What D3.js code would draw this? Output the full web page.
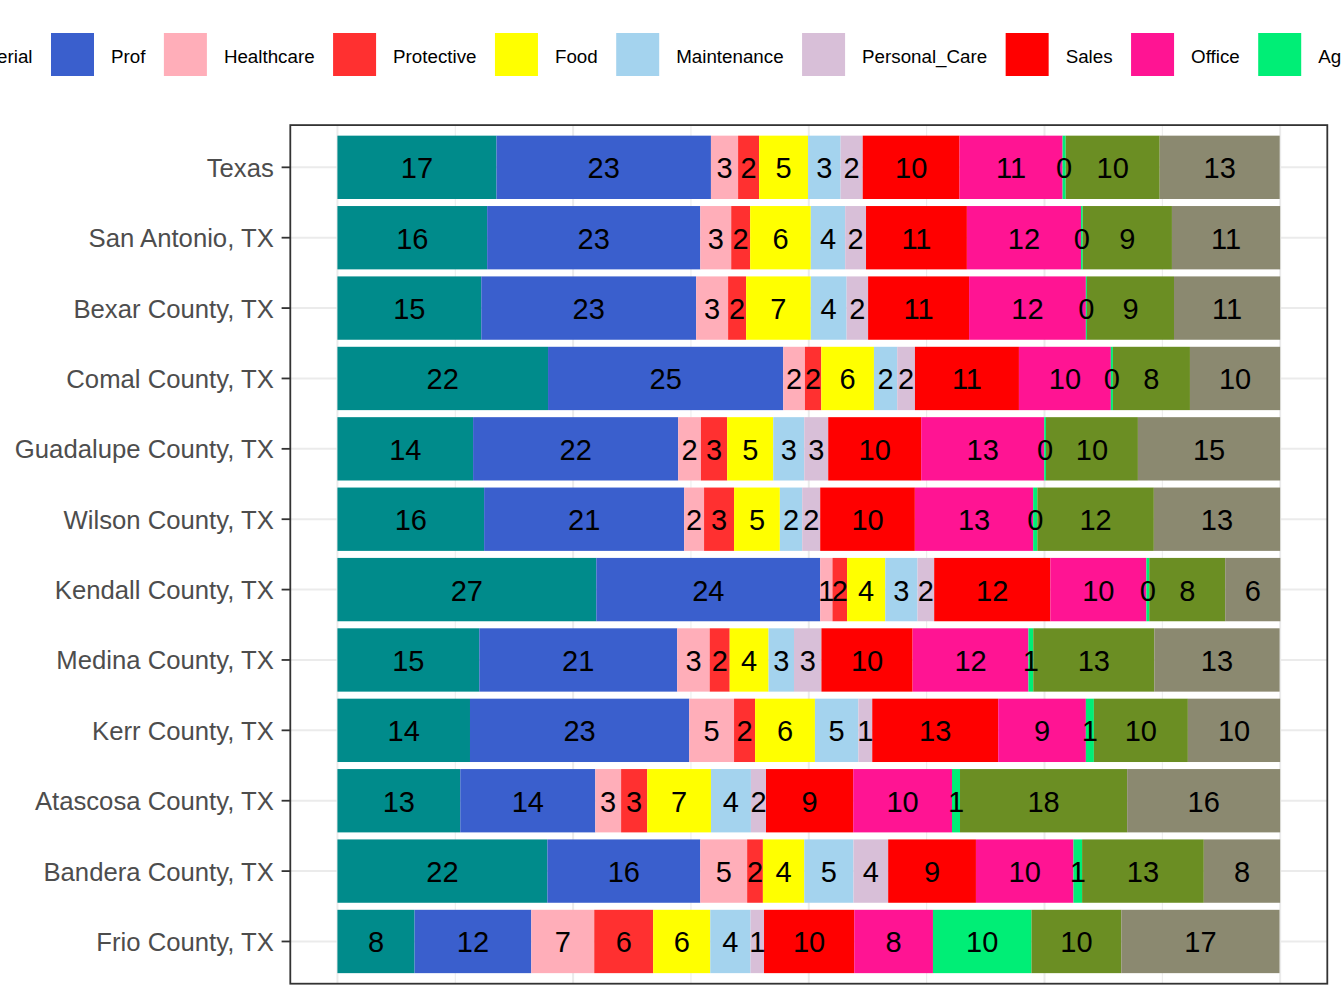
<!DOCTYPE html>
<html>
<head>
<meta charset="utf-8">
<script src="https://cdn.jsdelivr.net/npm/d3@7"></script>
<style>
  html, body { margin: 0; padding: 0; background: #ffffff; }
  svg { display: block; font-family: "Liberation Sans", Arial, sans-serif; }
</style>
</head>
<body>
<svg id="chart" width="1344" height="1008"></svg>
<script>
// ---------------- DATA ----------------
const regions = ["Texas", "San Antonio, TX", "Bexar County, TX", "Comal County, TX",
  "Guadalupe County, TX", "Wilson County, TX", "Kendall County, TX", "Medina County, TX",
  "Kerr County, TX", "Atascosa County, TX", "Bandera County, TX", "Frio County, TX"];

const occupations = ["Managerial", "Prof", "Healthcare", "Protective", "Food", "Maintenance",
  "Personal_Care", "Sales", "Office", "Ag", "Construction", "Production"];

const occupationColors = ["#008B8B", "#3A5FCD", "#FFAEB9", "#FF3030", "#FFFF00", "#A4D3EE",
  "#D8BFD8", "#FF0000", "#FF1493", "#00EE76", "#6B8E23", "#8B8970"];

// percent of workers, one value per region (same order as regions)
const managerial   = [16.87, 15.88, 15.26, 22.34, 14.39, 15.56, 27.46, 15.05, 14.06, 13.03, 22.27, 8.18];
const prof         = [22.75, 22.61, 22.79, 24.95, 21.76, 21.22, 23.75, 20.99, 23.26, 14.32, 16.22, 12.38];
const healthcare   = [2.88, 3.28, 3.39, 2.30, 2.41, 2.11, 1.30, 3.45, 4.75, 2.74, 4.97, 6.68];
const protective   = [2.23, 2.01, 1.91, 1.73, 2.78, 3.18, 1.55, 2.12, 2.23, 2.77, 1.67, 6.25];
const food         = [5.19, 6.43, 6.86, 5.59, 4.89, 4.86, 4.05, 4.12, 6.35, 6.76, 4.39, 6.06];
const maintenance  = [3.45, 3.65, 3.80, 2.47, 3.29, 2.37, 3.42, 2.70, 4.61, 4.24, 5.22, 4.27];
const personalCare = [2.35, 2.21, 2.28, 1.88, 2.54, 1.91, 1.77, 2.91, 1.47, 1.60, 3.68, 1.43];
const sales        = [10.27, 10.70, 10.71, 11.03, 9.86, 10.04, 12.32, 9.67, 13.36, 9.25, 9.31, 9.57];
const office       = [10.93, 12.11, 12.39, 9.75, 13.06, 12.55, 10.19, 12.29, 9.30, 10.48, 10.34, 8.35];
const ag           = [0.33, 0.18, 0.11, 0.22, 0.18, 0.44, 0.30, 0.51, 0.85, 0.85, 0.92, 10.45];
const construction = [9.97, 9.46, 9.24, 8.17, 9.75, 12.36, 8.06, 12.84, 9.97, 17.73, 12.91, 9.53];
const production   = [12.73, 11.48, 11.26, 9.57, 15.09, 13.40, 5.85, 13.29, 9.79, 16.23, 8.10, 16.78];

const seriesValues = [managerial, prof, healthcare, protective, food, maintenance,
  personalCare, sales, office, ag, construction, production];

const xMajorTicks = [0, 25, 50, 75, 100];
const xMinorTicks = [12.5, 37.5, 62.5, 87.5];

// ---------------- LAYOUT ----------------
const svg = d3.select("#chart");
const panel = { left: 290.3, right: 1327.3, top: 125.1, bottom: 983.7 };

const table = regions.map((r, i) => {
  const row = { region: r };
  occupations.forEach((o, j) => { row[o] = seriesValues[j][i]; });
  return row;
});

const x = d3.scaleLinear().domain([-5, 105]).range([panel.left, panel.right]);
const y = d3.scalePoint().domain(regions).range([panel.top, panel.bottom]).padding(0.6);
const step = y.step();
const barH = step * 0.9;
const color = d3.scaleOrdinal().domain(occupations).range(occupationColors);

// panel background
svg.append("rect").attr("x", panel.left).attr("y", panel.top)
  .attr("width", panel.right - panel.left).attr("height", panel.bottom - panel.top)
  .attr("fill", "#ffffff");

// grid
const grid = svg.append("g");
grid.selectAll("line.minor").data(xMinorTicks).join("line")
  .attr("x1", d => x(d)).attr("x2", d => x(d))
  .attr("y1", panel.top).attr("y2", panel.bottom)
  .attr("stroke", "#EBEBEB").attr("stroke-width", 1);
grid.selectAll("line.major").data(xMajorTicks).join("line")
  .attr("x1", d => x(d)).attr("x2", d => x(d))
  .attr("y1", panel.top).attr("y2", panel.bottom)
  .attr("stroke", "#EBEBEB").attr("stroke-width", 2);
grid.selectAll("line.hmajor").data(regions).join("line")
  .attr("x1", panel.left).attr("x2", panel.right)
  .attr("y1", d => y(d)).attr("y2", d => y(d))
  .attr("stroke", "#EBEBEB").attr("stroke-width", 2);

// bars
const stacked = d3.stack().keys(occupations)(table);
const layers = svg.append("g").selectAll("g").data(stacked).join("g")
  .attr("fill", d => color(d.key));
layers.selectAll("rect").data(d => d).join("rect")
  .attr("x", d => x(d[0]))
  .attr("width", d => x(d[1]) - x(d[0]))
  .attr("y", d => y(d.data.region) - barH / 2)
  .attr("height", barH);

// labels
const labels = svg.append("g").attr("font-size", "29px").attr("fill", "#000000")
  .attr("text-anchor", "middle");
stacked.forEach(layer => {
  labels.selectAll(null).data(layer).join("text")
    .attr("x", d => x((d[0] + d[1]) / 2))
    .attr("y", d => y(d.data.region))
    .attr("dy", "0.38em")
    .text(d => Math.round(d[1] - d[0]));
});

// panel border
svg.append("rect").attr("x", panel.left).attr("y", panel.top)
  .attr("width", panel.right - panel.left).attr("height", panel.bottom - panel.top)
  .attr("fill", "none").attr("stroke", "#333333").attr("stroke-width", 1.8);

// y axis ticks and labels
const yAxis = svg.append("g");
yAxis.selectAll("line").data(regions).join("line")
  .attr("x1", panel.left - 8.7).attr("x2", panel.left)
  .attr("y1", d => y(d)).attr("y2", d => y(d))
  .attr("stroke", "#333333").attr("stroke-width", 1.8);
yAxis.selectAll("text").data(regions).join("text")
  .attr("x", panel.left - 16.5)
  .attr("y", d => y(d))
  .attr("dy", "0.37em")
  .attr("text-anchor", "end")
  .attr("font-size", "25.7px")
  .attr("fill", "#4D4D4D")
  .text(d => d);

// legend (horizontal, top)
const legend = svg.append("g");
const keySize = 43, keyTextGap = 17, itemGap = 18.5;
const items = legend.selectAll("g").data(occupations).join("g");
items.append("rect").attr("width", keySize).attr("height", keySize)
  .attr("y", 33).attr("fill", d => color(d));
items.append("text").attr("x", keySize + keyTextGap).attr("y", 62.7)
  .attr("font-size", "18.75px").attr("fill", "#000000").text(d => d);
let cursor = 0;
const offsets = [];
items.each(function () {
  offsets.push(cursor);
  const w = d3.select(this).select("text").node().getComputedTextLength();
  cursor += keySize + keyTextGap + w + itemGap;
});
// anchor so that the "Prof" key sits where it does in the reference
const shift = 51 - offsets[1];
items.attr("transform", (d, i) => `translate(${offsets[i] + shift},0)`);
</script>
</body>
</html>
